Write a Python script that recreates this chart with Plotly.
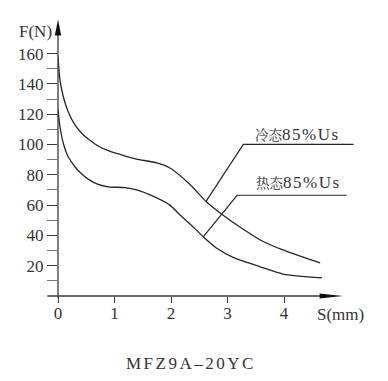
import plotly.graph_objects as go

# ---- data ----
s_cold = [0, 0.035, 0.094, 0.18, 0.30, 0.42, 0.54, 0.71, 0.89, 1.19, 1.39, 1.75, 1.98, 2.34,
          2.63, 2.87, 3.22, 3.58, 3.98, 4.64]
f_cold = [158, 142.6, 131.5, 121.6, 112.9, 107.4, 103.4, 99, 95.9, 92.4, 90.4, 87.8, 84.5, 73.5,
          62, 54.8, 45.5, 37, 30.4, 21.8]

s_hot = [0, 0.035, 0.094, 0.18, 0.30, 0.42, 0.54, 0.71, 0.89, 1.19, 1.39, 1.63, 1.98, 2.16,
         2.39, 2.57, 2.81, 3.10, 3.58, 3.98, 4.67]
f_hot = [123.2, 111.7, 100.8, 91.9, 85.3, 80.5, 77, 73.7, 72.1, 71.5, 70, 66.7, 60, 53.5,
         45.7, 39.1, 31.5, 25.5, 19.3, 14.5, 12]

cold_leader_s = [2.62, 3.28, 5.23]
cold_leader_f = [62.5, 100.1, 100.1]
hot_leader_s = [2.57, 3.17, 5.11]
hot_leader_f = [39.1, 66.5, 66.5]

cold_label = "冷态85%Us"
hot_label = "热态85%Us"
x_ticks = [0, 1, 2, 3, 4]
y_ticks = [20, 40, 60, 80, 100, 120, 140, 160]
y_minor = [10, 30, 50, 70, 90, 110, 130, 150]
title = "MFZ9A–20YC"

# ---- layout geometry (page body has an 8px margin) ----
W, H = 372, 365
L, B, R, T = 50, 77, 12, 2
PW, PH = W - L - R, H - B - T
XMAX = PW / 56.5
YMAX = PH / 1.515

def xp(v):
    return v / XMAX

def yp(v):
    return v / YMAX

FONT = "Liberation Serif"
CJK = "Noto Serif CJK SC"
INK = "#262626"
AX = "#3a3a3a"
TXT = "#333333"

fig = go.Figure()
for sx, fy in ((s_cold, f_cold), (s_hot, f_hot)):
    fig.add_trace(go.Scatter(x=sx, y=fy, mode="lines",
                             line=dict(color=INK, width=1.3, shape="spline", smoothing=0.7),
                             hoverinfo="skip", showlegend=False))
for sx, fy in ((cold_leader_s, cold_leader_f), (hot_leader_s, hot_leader_f)):
    fig.add_trace(go.Scatter(x=sx, y=fy, mode="lines",
                             line=dict(color=INK, width=1.2), hoverinfo="skip", showlegend=False))

# axis lines and arrows (paper coords, not clipped)
x_axis_min, x_axis_max = -0.19, 5.04
y_axis_min, y_axis_max = -1.3, 182.5
shapes = [
    dict(type="line", xref="paper", yref="paper", x0=xp(x_axis_min), x1=xp(x_axis_max - 0.3),
         y0=0, y1=0, line=dict(color=AX, width=1.3)),
    dict(type="line", xref="paper", yref="paper", x0=0, x1=0,
         y0=yp(y_axis_min), y1=yp(y_axis_max - 8), line=dict(color=AX, width=1.3)),
    dict(type="path", xref="paper", yref="paper",
         path=f"M {xp(x_axis_max)} 0 L {xp(x_axis_max - 0.41)} {2.6 / PH} L {xp(x_axis_max - 0.41)} {-2.6 / PH} Z",
         fillcolor="#111", line=dict(width=0)),
    dict(type="path", xref="paper", yref="paper",
         path=f"M 0 {yp(y_axis_max)} L {3.2 / PW} {yp(y_axis_max - 10.5)} L {-3.2 / PW} {yp(y_axis_max - 10.5)} Z",
         fillcolor="#111", line=dict(width=0)),
]

def label_html(lbl):
    return (f'<span style="font-family:\'{CJK}\';font-size:13.5px">{lbl[:2]}</span>'
            f'<span style="letter-spacing:1.5px">{lbl[2:]}</span>')

annotations = [
    dict(text=label_html(cold_label),
         x=3.45, y=107, xref="x", yref="y", xanchor="left", yanchor="middle",
         showarrow=False, font=dict(family=FONT, size=17, color=TXT)),
    dict(text=label_html(hot_label),
         x=3.47, y=75.4, xref="x", yref="y", xanchor="left", yanchor="middle",
         showarrow=False, font=dict(family=FONT, size=17, color=TXT)),
    dict(text="F(N)", x=-(58 - 17) / PW, y=yp((296 - 32) / 1.515), xref="paper", yref="paper",
         xanchor="left", yanchor="middle", showarrow=False,
         font=dict(family=FONT, size=17, color=TXT)),
    dict(text="S(mm)", x=xp(4.55), y=yp(-12), xref="paper", yref="paper",
         xanchor="left", yanchor="middle", showarrow=False,
         font=dict(family=FONT, size=17, color=TXT)),
    dict(text=f'<span style="letter-spacing:2.5px">{title}</span>', x=xp(2.35), y=yp(-44.5),
         xref="paper", yref="paper", xanchor="center", yanchor="middle", showarrow=False,
         font=dict(family=FONT, size=17, color=TXT)),
]

fig.update_layout(
    width=W, height=H,
    margin=dict(l=L, r=R, t=T, b=B, pad=0),
    paper_bgcolor="white", plot_bgcolor="white",
    shapes=shapes, annotations=annotations,
    xaxis=dict(range=[0, XMAX], tickvals=x_ticks, ticktext=[str(v) for v in x_ticks],
               ticks="outside", ticklen=6, tickwidth=1.2, tickcolor=AX, ticklabelstandoff=-4,
               showgrid=False, zeroline=False, showline=False,
               tickfont=dict(family=FONT, size=17, color=TXT), fixedrange=True),
    yaxis=dict(range=[0, YMAX], tickvals=y_ticks, ticktext=[str(v) for v in y_ticks],
               ticks="outside", ticklen=10, tickwidth=1.2, tickcolor=AX,
               minor=dict(tickvals=y_minor, ticks="outside", ticklen=10, tickwidth=1.2, tickcolor="#777"),
               showgrid=False, zeroline=False, showline=False,
               tickfont=dict(family=FONT, size=17, color=TXT), fixedrange=True),
)

fig.write_html("out.html")
